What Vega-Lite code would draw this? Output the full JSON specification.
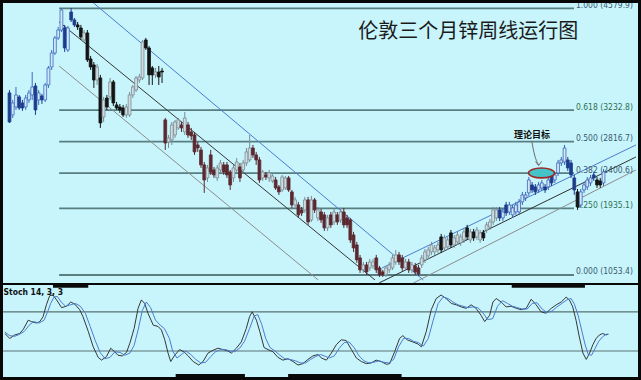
{
"$schema":"https://vega.github.io/schema/vega-lite/v6.json",
"background":"#080808",
"padding":3,
"spacing":2,
"config":{"view":{"stroke":null,"fill":"#C8F5FC"}},
"datasets":{
"candles":[
{"i":0,"o":3461,"h":3500,"l":3064,"c":3077},{"i":1,"o":3170,"h":3368,"l":3130,"c":3328},{"i":2,"o":3275,"h":3540,"l":3236,"c":3434},{"i":3,"o":3408,"h":3434,"l":3236,"c":3262},{"i":4,"o":3328,"h":3368,"l":3223,"c":3262},{"i":5,"o":3275,"h":3434,"l":3236,"c":3394},{"i":6,"o":3368,"h":3500,"l":3328,"c":3461},{"i":7,"o":3434,"h":3738,"l":3368,"c":3540},{"i":8,"o":3553,"h":3593,"l":3170,"c":3236},{"i":9,"o":3368,"h":3500,"l":3302,"c":3461},
{"i":10,"o":3421,"h":3447,"l":3315,"c":3368},{"i":11,"o":3368,"h":3593,"l":3341,"c":3566},{"i":12,"o":3566,"h":3817,"l":3527,"c":3791},{"i":13,"o":3804,"h":4029,"l":3765,"c":3989},{"i":14,"o":3989,"h":4214,"l":3963,"c":4188},{"i":15,"o":4188,"h":4333,"l":4161,"c":4293},{"i":16,"o":4293,"h":4584,"l":4267,"c":4558},{"i":17,"o":4320,"h":4360,"l":4003,"c":4055},{"i":18,"o":4029,"h":4346,"l":4003,"c":4320},{"i":19,"o":4531,"h":4584,"l":4399,"c":4426},
{"i":20,"o":4426,"h":4452,"l":4333,"c":4360},{"i":21,"o":4360,"h":4399,"l":4293,"c":4333},{"i":22,"o":4320,"h":4360,"l":4161,"c":4201},{"i":23,"o":4161,"h":4293,"l":4135,"c":4254},{"i":24,"o":4254,"h":4293,"l":3870,"c":3897},{"i":25,"o":3910,"h":3950,"l":3765,"c":3804},{"i":26,"o":3831,"h":3870,"l":3527,"c":3632},{"i":27,"o":3632,"h":3844,"l":3566,"c":3804},{"i":28,"o":3659,"h":3699,"l":2998,"c":3064},{"i":29,"o":3143,"h":3408,"l":3077,"c":3368},
{"i":30,"o":3394,"h":3434,"l":3236,"c":3275},{"i":31,"o":3408,"h":3659,"l":3368,"c":3606},{"i":32,"o":3606,"h":3632,"l":3289,"c":3328},{"i":33,"o":3302,"h":3341,"l":3236,"c":3262},{"i":34,"o":3275,"h":3315,"l":3196,"c":3236},{"i":35,"o":3262,"h":3302,"l":3143,"c":3170},{"i":36,"o":3170,"h":3315,"l":3130,"c":3275},{"i":37,"o":3170,"h":3474,"l":3143,"c":3434},{"i":38,"o":3434,"h":3566,"l":3394,"c":3540},{"i":39,"o":3500,"h":3685,"l":3474,"c":3659},
{"i":40,"o":3632,"h":3712,"l":3593,"c":3672},{"i":41,"o":3659,"h":4161,"l":3632,"c":4135},{"i":42,"o":4161,"h":4188,"l":4029,"c":4055},{"i":43,"o":4055,"h":4082,"l":3566,"c":3699},{"i":44,"o":3791,"h":3817,"l":3566,"c":3699},{"i":45,"o":3699,"h":3791,"l":3659,"c":3738},{"i":46,"o":3738,"h":3817,"l":3566,"c":3672},{"i":47,"o":3751,"h":3791,"l":3593,"c":3738},{"i":48,"o":3104,"h":3130,"l":2707,"c":2799},{"i":49,"o":2813,"h":2905,"l":2733,"c":2866},
{"i":50,"o":2839,"h":3077,"l":2773,"c":3038},{"i":51,"o":2905,"h":3104,"l":2866,"c":3077},{"i":52,"o":2998,"h":3130,"l":2971,"c":3104},{"i":53,"o":3038,"h":3077,"l":2945,"c":2998},{"i":54,"o":2945,"h":3209,"l":2905,"c":3130},{"i":55,"o":3038,"h":3077,"l":2866,"c":2905},{"i":56,"o":2945,"h":2998,"l":2839,"c":2892},{"i":57,"o":2905,"h":2945,"l":2641,"c":2681},{"i":58,"o":2773,"h":2813,"l":2681,"c":2733},{"i":59,"o":2707,"h":2747,"l":2469,"c":2509},
{"i":60,"o":2509,"h":2548,"l":2139,"c":2310},{"i":61,"o":2337,"h":2509,"l":2284,"c":2469},{"i":62,"o":2641,"h":2707,"l":2377,"c":2416},{"i":63,"o":2443,"h":2482,"l":2337,"c":2377},{"i":64,"o":2337,"h":2509,"l":2297,"c":2469},{"i":65,"o":2443,"h":2575,"l":2403,"c":2535},{"i":66,"o":2509,"h":2548,"l":2377,"c":2416},{"i":67,"o":2509,"h":2548,"l":2337,"c":2377},{"i":68,"o":2416,"h":2443,"l":2178,"c":2244},{"i":69,"o":2337,"h":2509,"l":2284,"c":2469},
{"i":70,"o":2443,"h":2601,"l":2403,"c":2548},{"i":71,"o":2482,"h":2535,"l":2284,"c":2337},{"i":72,"o":2443,"h":2575,"l":2403,"c":2535},{"i":73,"o":2535,"h":2733,"l":2495,"c":2681},{"i":74,"o":2575,"h":2905,"l":2548,"c":2733},{"i":75,"o":2733,"h":2773,"l":2601,"c":2641},{"i":76,"o":2641,"h":2681,"l":2509,"c":2575},{"i":77,"o":2575,"h":2614,"l":2271,"c":2310},{"i":78,"o":2337,"h":2443,"l":2297,"c":2416},{"i":79,"o":2377,"h":2416,"l":2310,"c":2350},
{"i":80,"o":2337,"h":2443,"l":2284,"c":2403},{"i":81,"o":2297,"h":2403,"l":2271,"c":2363},{"i":82,"o":2310,"h":2350,"l":2178,"c":2205},{"i":83,"o":2218,"h":2244,"l":2112,"c":2152},{"i":84,"o":2178,"h":2377,"l":2152,"c":2350},{"i":85,"o":2205,"h":2363,"l":2178,"c":2337},{"i":86,"o":2337,"h":2363,"l":2152,"c":2178},{"i":87,"o":2152,"h":2178,"l":1940,"c":1980},{"i":88,"o":1980,"h":2086,"l":1940,"c":2046},{"i":89,"o":1980,"h":2020,"l":1808,"c":1848},
{"i":90,"o":1914,"h":1953,"l":1834,"c":1874},{"i":91,"o":1914,"h":2086,"l":1874,"c":2046},{"i":92,"o":2046,"h":2086,"l":1716,"c":1755},{"i":93,"o":1782,"h":2099,"l":1755,"c":2046},{"i":94,"o":2046,"h":2072,"l":1874,"c":1914},{"i":95,"o":1808,"h":1953,"l":1768,"c":1914},{"i":96,"o":1887,"h":1927,"l":1742,"c":1782},{"i":97,"o":1848,"h":1887,"l":1636,"c":1676},{"i":98,"o":1676,"h":1848,"l":1636,"c":1808},{"i":99,"o":1848,"h":1887,"l":1676,"c":1716},
{"i":100,"o":1755,"h":1927,"l":1716,"c":1887},{"i":101,"o":1848,"h":1887,"l":1716,"c":1755},{"i":102,"o":1782,"h":1940,"l":1742,"c":1887},{"i":103,"o":1887,"h":1940,"l":1676,"c":1716},{"i":104,"o":1808,"h":1848,"l":1676,"c":1716},{"i":105,"o":1782,"h":1808,"l":1478,"c":1517},{"i":106,"o":1583,"h":1623,"l":1359,"c":1412},{"i":107,"o":1451,"h":1491,"l":1213,"c":1253},{"i":108,"o":1279,"h":1319,"l":1081,"c":1121},{"i":109,"o":1121,"h":1226,"l":1081,"c":1187},
{"i":110,"o":1187,"h":1226,"l":1055,"c":1094},{"i":111,"o":1147,"h":1266,"l":1108,"c":1226},{"i":112,"o":1174,"h":1266,"l":1134,"c":1226},{"i":113,"o":1279,"h":1319,"l":1081,"c":1121},{"i":114,"o":1147,"h":1174,"l":1028,"c":1055},{"i":115,"o":1094,"h":1121,"l":1028,"c":1055},{"i":116,"o":1055,"h":1174,"l":1028,"c":1147},{"i":117,"o":1121,"h":1226,"l":1081,"c":1187},{"i":118,"o":1147,"h":1319,"l":1121,"c":1279},{"i":119,"o":1226,"h":1385,"l":1187,"c":1319},
{"i":120,"o":1319,"h":1359,"l":1187,"c":1226},{"i":121,"o":1279,"h":1319,"l":1108,"c":1147},{"i":122,"o":1147,"h":1266,"l":1108,"c":1226},{"i":123,"o":1226,"h":1266,"l":1081,"c":1121},{"i":124,"o":1121,"h":1226,"l":1081,"c":1187},{"i":125,"o":1174,"h":1213,"l":1055,"c":1094},{"i":126,"o":1147,"h":1187,"l":1041,"c":1068},{"i":127,"o":1187,"h":1319,"l":1147,"c":1279},{"i":128,"o":1253,"h":1398,"l":1213,"c":1359},{"i":129,"o":1306,"h":1425,"l":1266,"c":1385},
{"i":130,"o":1359,"h":1491,"l":1319,"c":1451},{"i":131,"o":1359,"h":1451,"l":1319,"c":1412},{"i":132,"o":1385,"h":1491,"l":1345,"c":1451},{"i":133,"o":1557,"h":1597,"l":1345,"c":1385},{"i":134,"o":1412,"h":1583,"l":1372,"c":1544},{"i":135,"o":1425,"h":1557,"l":1385,"c":1517},{"i":136,"o":1610,"h":1649,"l":1412,"c":1451},{"i":137,"o":1451,"h":1583,"l":1412,"c":1544},{"i":138,"o":1491,"h":1623,"l":1451,"c":1583},{"i":139,"o":1478,"h":1597,"l":1438,"c":1557},
{"i":140,"o":1517,"h":1663,"l":1478,"c":1623},{"i":141,"o":1676,"h":1716,"l":1517,"c":1557},{"i":142,"o":1517,"h":1663,"l":1478,"c":1623},{"i":143,"o":1623,"h":1663,"l":1504,"c":1544},{"i":144,"o":1557,"h":1689,"l":1517,"c":1649},{"i":145,"o":1517,"h":1649,"l":1478,"c":1610},{"i":146,"o":1610,"h":1649,"l":1504,"c":1544},{"i":147,"o":1649,"h":1755,"l":1610,"c":1716},{"i":148,"o":1689,"h":1795,"l":1649,"c":1755},{"i":149,"o":1755,"h":1953,"l":1716,"c":1914},
{"i":150,"o":1808,"h":1953,"l":1768,"c":1914},{"i":151,"o":1914,"h":1953,"l":1768,"c":1808},{"i":152,"o":1808,"h":1927,"l":1768,"c":1887},{"i":153,"o":1980,"h":2020,"l":1834,"c":1874},{"i":154,"o":1887,"h":2020,"l":1848,"c":1980},{"i":155,"o":1848,"h":1980,"l":1808,"c":1940},{"i":156,"o":1887,"h":2020,"l":1848,"c":1980},{"i":157,"o":1887,"h":2059,"l":1848,"c":2020},{"i":158,"o":2020,"h":2152,"l":1980,"c":2112},{"i":159,"o":2072,"h":2152,"l":2033,"c":2112},
{"i":160,"o":2139,"h":2350,"l":2099,"c":2310},{"i":161,"o":2244,"h":2284,"l":2139,"c":2178},{"i":162,"o":2218,"h":2257,"l":2112,"c":2152},{"i":163,"o":2178,"h":2284,"l":2139,"c":2244},{"i":164,"o":2205,"h":2310,"l":2165,"c":2271},{"i":165,"o":2218,"h":2257,"l":2139,"c":2178},{"i":166,"o":2218,"h":2350,"l":2178,"c":2310},{"i":167,"o":2403,"h":2443,"l":2231,"c":2271},{"i":168,"o":2310,"h":2416,"l":2271,"c":2377},{"i":169,"o":2403,"h":2575,"l":2363,"c":2535},
{"i":170,"o":2535,"h":2614,"l":2495,"c":2575},{"i":171,"o":2548,"h":2773,"l":2509,"c":2733},{"i":172,"o":2575,"h":2614,"l":2429,"c":2469},{"i":173,"o":2535,"h":2575,"l":2337,"c":2377},{"i":174,"o":2337,"h":2377,"l":2112,"c":2178},{"i":175,"o":2152,"h":2191,"l":1914,"c":1953},{"i":176,"o":1980,"h":2191,"l":1940,"c":2152},{"i":177,"o":2178,"h":2284,"l":2139,"c":2244},{"i":178,"o":2218,"h":2350,"l":2178,"c":2310},{"i":179,"o":2271,"h":2377,"l":2231,"c":2337},
{"i":180,"o":2377,"h":2416,"l":2297,"c":2337},{"i":181,"o":2310,"h":2350,"l":2205,"c":2244},{"i":182,"o":2297,"h":2337,"l":2205,"c":2244},{"i":183,"o":2271,"h":2456,"l":2231,"c":2416}
],
"fib":[
{"r":1.0,"p":4579.9,"lab":"1.000 (4579.9)"},
{"r":0.618,"p":3232.8,"lab":"0.618 (3232.8)"},
{"r":0.5,"p":2816.7,"lab":"0.500 (2816.7)"},
{"r":0.382,"p":2400.6,"lab":"0.382 (2400.6)"},
{"r":0.25,"p":1935.1,"lab":"0.250 (1935.1)"},
{"r":0.0,"p":1053.4,"lab":"0.000 (1053.4)"}
],
"chan":[
{"ln":"db","i":25.9,"p":4650},{"ln":"db","i":127.5,"p":988},
{"ln":"dm","i":15.3,"p":4399},{"ln":"dm","i":112.6,"p":988},
{"ln":"dl","i":15.3,"p":3817},{"ln":"dl","i":95.1,"p":988},
{"ln":"ub","i":114.8,"p":1147},{"ln":"ub","i":193,"p":2773},
{"ln":"um","i":113.9,"p":949},{"ln":"um","i":193,"p":2614},
{"ln":"ul","i":124.5,"p":949},{"ln":"ul","i":193,"p":2443}
],
"stoch":[
{"i":0.1,"s":"K","v":45},{"i":1.6,"s":"K","v":38},{"i":3.1,"s":"K","v":43},{"i":4.6,"s":"K","v":45},{"i":5.7,"s":"K","v":51},{"i":7.2,"s":"K","v":64},{"i":8.2,"s":"K","v":62},{"i":9.7,"s":"K","v":60},{"i":10.7,"s":"K","v":62},{"i":11.7,"s":"K","v":69},{"i":12.7,"s":"K","v":86},{"i":13.7,"s":"K","v":99},{"i":14.7,"s":"K","v":100},{"i":15.8,"s":"K","v":93},{"i":17.3,"s":"K","v":82},{"i":18.8,"s":"K","v":84},{"i":20.1,"s":"K","v":90},{"i":21.3,"s":"K","v":87},{"i":22.8,"s":"K","v":79},{"i":23.8,"s":"K","v":69},{"i":25.4,"s":"K","v":48},{"i":26.9,"s":"K","v":26},{"i":28.4,"s":"K","v":11},{"i":29.4,"s":"K","v":7},{"i":30.9,"s":"K","v":12},{"i":32.2,"s":"K","v":24},{"i":33.4,"s":"K","v":19},{"i":34.4,"s":"K","v":14},{"i":35.7,"s":"K","v":13},{"i":37,"s":"K","v":18},{"i":38,"s":"K","v":31},{"i":39.3,"s":"K","v":52},{"i":40.5,"s":"K","v":81},{"i":41.5,"s":"K","v":93},{"i":42.5,"s":"K","v":88},{"i":43.5,"s":"K","v":74},{"i":45.1,"s":"K","v":57},{"i":46.6,"s":"K","v":55},{"i":47.6,"s":"K","v":50},{"i":48.6,"s":"K","v":36},{"i":49.6,"s":"K","v":17},{"i":50.4,"s":"K","v":5},{"i":51.6,"s":"K","v":14},{"i":53.1,"s":"K","v":22},{"i":54.4,"s":"K","v":19},{"i":55.7,"s":"K","v":13},{"i":57.2,"s":"K","v":5},{"i":58.9,"s":"K","v":0},{"i":60.2,"s":"K","v":5},{"i":61.7,"s":"K","v":17},{"i":63.2,"s":"K","v":21},{"i":64.7,"s":"K","v":24},{"i":66.3,"s":"K","v":22},{"i":67.8,"s":"K","v":20},{"i":68.8,"s":"K","v":17},{"i":70.3,"s":"K","v":24},{"i":71.8,"s":"K","v":33},{"i":73.3,"s":"K","v":52},{"i":74.3,"s":"K","v":69},{"i":75.1,"s":"K","v":76},{"i":76.4,"s":"K","v":64},{"i":77.4,"s":"K","v":48},{"i":78.7,"s":"K","v":25},{"i":79.9,"s":"K","v":22},{"i":81.4,"s":"K","v":19},{"i":82.9,"s":"K","v":11},{"i":84.4,"s":"K","v":7},{"i":86,"s":"K","v":9},{"i":87.5,"s":"K","v":5},{"i":89,"s":"K","v":0},{"i":90.5,"s":"K","v":2},{"i":92,"s":"K","v":8},{"i":93.5,"s":"K","v":13},{"i":95.1,"s":"K","v":15},{"i":96.1,"s":"K","v":10},{"i":97.6,"s":"K","v":7},{"i":99.1,"s":"K","v":17},{"i":100.6,"s":"K","v":29},{"i":102.1,"s":"K","v":36},{"i":103.6,"s":"K","v":35},{"i":105.2,"s":"K","v":22},{"i":106.7,"s":"K","v":10},{"i":108.2,"s":"K","v":5},{"i":109.7,"s":"K","v":2},{"i":111.2,"s":"K","v":3},{"i":112.7,"s":"K","v":7},{"i":114.2,"s":"K","v":5},{"i":115.8,"s":"K","v":1},{"i":116.8,"s":"K","v":2},{"i":118.3,"s":"K","v":19},{"i":119.8,"s":"K","v":38},{"i":120.8,"s":"K","v":42},{"i":122.1,"s":"K","v":36},{"i":123.8,"s":"K","v":33},{"i":125.4,"s":"K","v":30},{"i":126.4,"s":"K","v":26},{"i":127.9,"s":"K","v":48},{"i":129.4,"s":"K","v":79},{"i":130.9,"s":"K","v":95},{"i":132.4,"s":"K","v":100},{"i":133.9,"s":"K","v":95},{"i":135.5,"s":"K","v":88},{"i":137,"s":"K","v":86},{"i":138.5,"s":"K","v":83},{"i":140,"s":"K","v":81},{"i":141.5,"s":"K","v":86},{"i":143,"s":"K","v":81},{"i":144.5,"s":"K","v":71},{"i":145.6,"s":"K","v":62},{"i":147.1,"s":"K","v":71},{"i":148.1,"s":"K","v":90},{"i":149.1,"s":"K","v":95},{"i":150.6,"s":"K","v":90},{"i":152.1,"s":"K","v":83},{"i":153.6,"s":"K","v":84},{"i":155.2,"s":"K","v":81},{"i":156.7,"s":"K","v":79},{"i":158.2,"s":"K","v":81},{"i":159.7,"s":"K","v":94},{"i":161.2,"s":"K","v":86},{"i":162.7,"s":"K","v":76},{"i":164.2,"s":"K","v":74},{"i":165.8,"s":"K","v":81},{"i":167.3,"s":"K","v":86},{"i":168.8,"s":"K","v":90},{"i":170.3,"s":"K","v":97},{"i":171.3,"s":"K","v":93},{"i":172.3,"s":"K","v":83},{"i":173.3,"s":"K","v":64},{"i":174.3,"s":"K","v":40},{"i":175.4,"s":"K","v":17},{"i":176.4,"s":"K","v":8},{"i":177.4,"s":"K","v":17},{"i":178.4,"s":"K","v":29},{"i":179.4,"s":"K","v":38},{"i":180.4,"s":"K","v":43},{"i":181.4,"s":"K","v":45},{"i":182.4,"s":"K","v":43},{"i":183.1,"s":"K","v":44},
{"i":0.1,"s":"D","v":47},{"i":1.6,"s":"D","v":42},{"i":3.1,"s":"D","v":41},{"i":4.6,"s":"D","v":44},{"i":6,"s":"D","v":48},{"i":7.5,"s":"D","v":57},{"i":8.8,"s":"D","v":62},{"i":10.5,"s":"D","v":60},{"i":12,"s":"D","v":64},{"i":13,"s":"D","v":75},{"i":14,"s":"D","v":88},{"i":15,"s":"D","v":97},{"i":16,"s":"D","v":98},{"i":17.2,"s":"D","v":90},{"i":18.5,"s":"D","v":84},{"i":20,"s":"D","v":86},{"i":21.5,"s":"D","v":88},{"i":23,"s":"D","v":84},{"i":24.5,"s":"D","v":74},{"i":26,"s":"D","v":55},{"i":27.5,"s":"D","v":35},{"i":29,"s":"D","v":18},{"i":30.5,"s":"D","v":9},{"i":32,"s":"D","v":11},{"i":33.5,"s":"D","v":19},{"i":35,"s":"D","v":18},{"i":36.5,"s":"D","v":14},{"i":38,"s":"D","v":17},{"i":39.3,"s":"D","v":28},{"i":40.5,"s":"D","v":50},{"i":41.8,"s":"D","v":78},{"i":43,"s":"D","v":90},{"i":44.3,"s":"D","v":82},{"i":45.8,"s":"D","v":64},{"i":47.2,"s":"D","v":57},{"i":48.5,"s":"D","v":52},{"i":50,"s":"D","v":38},{"i":51,"s":"D","v":20},{"i":52.3,"s":"D","v":10},{"i":53.7,"s":"D","v":15},{"i":55,"s":"D","v":20},{"i":56.5,"s":"D","v":15},{"i":58,"s":"D","v":8},{"i":59.5,"s":"D","v":3},{"i":61,"s":"D","v":4},{"i":62.5,"s":"D","v":12},{"i":64,"s":"D","v":19},{"i":65.5,"s":"D","v":22},{"i":67,"s":"D","v":22},{"i":68.5,"s":"D","v":20},{"i":69.8,"s":"D","v":19},{"i":71.3,"s":"D","v":24},{"i":72.8,"s":"D","v":34},{"i":74.3,"s":"D","v":52},{"i":75.7,"s":"D","v":70},{"i":76.8,"s":"D","v":72},{"i":78,"s":"D","v":58},{"i":79.2,"s":"D","v":38},{"i":80.5,"s":"D","v":25},{"i":82,"s":"D","v":20},{"i":83.5,"s":"D","v":14},{"i":85,"s":"D","v":9},{"i":86.6,"s":"D","v":8},{"i":88.2,"s":"D","v":6},{"i":89.8,"s":"D","v":3},{"i":91.3,"s":"D","v":3},{"i":92.8,"s":"D","v":8},{"i":94.3,"s":"D","v":12},{"i":95.8,"s":"D","v":15},{"i":97,"s":"D","v":13},{"i":98.5,"s":"D","v":10},{"i":100,"s":"D","v":13},{"i":101.5,"s":"D","v":24},{"i":103,"s":"D","v":32},{"i":104.5,"s":"D","v":33},{"i":106,"s":"D","v":25},{"i":107.5,"s":"D","v":13},{"i":109,"s":"D","v":6},{"i":110.5,"s":"D","v":3},{"i":112,"s":"D","v":4},{"i":113.5,"s":"D","v":6},{"i":115,"s":"D","v":4},{"i":116.5,"s":"D","v":3},{"i":118,"s":"D","v":8},{"i":119.5,"s":"D","v":26},{"i":121,"s":"D","v":38},{"i":122.5,"s":"D","v":38},{"i":124,"s":"D","v":34},{"i":125.5,"s":"D","v":32},{"i":127,"s":"D","v":27},{"i":128.5,"s":"D","v":38},{"i":130,"s":"D","v":64},{"i":131.5,"s":"D","v":88},{"i":133,"s":"D","v":97},{"i":134.5,"s":"D","v":95},{"i":136,"s":"D","v":90},{"i":137.5,"s":"D","v":86},{"i":139,"s":"D","v":84},{"i":140.5,"s":"D","v":82},{"i":142,"s":"D","v":83},{"i":143.5,"s":"D","v":82},{"i":145,"s":"D","v":75},{"i":146.5,"s":"D","v":65},{"i":148,"s":"D","v":66},{"i":149.5,"s":"D","v":84},{"i":151,"s":"D","v":92},{"i":152.5,"s":"D","v":88},{"i":154,"s":"D","v":84},{"i":155.5,"s":"D","v":82},{"i":157,"s":"D","v":80},{"i":158.5,"s":"D","v":80},{"i":160,"s":"D","v":88},{"i":161.5,"s":"D","v":89},{"i":163,"s":"D","v":80},{"i":164.5,"s":"D","v":75},{"i":166,"s":"D","v":77},{"i":167.5,"s":"D","v":83},{"i":169,"s":"D","v":88},{"i":170.5,"s":"D","v":93},{"i":171.8,"s":"D","v":95},{"i":172.8,"s":"D","v":87},{"i":174,"s":"D","v":70},{"i":175,"s":"D","v":50},{"i":176,"s":"D","v":30},{"i":177,"s":"D","v":15},{"i":178,"s":"D","v":14},{"i":179,"s":"D","v":23},{"i":180.2,"s":"D","v":34},{"i":181.3,"s":"D","v":40},{"i":182.4,"s":"D","v":44},{"i":183.1,"s":"D","v":44}
],
"zones":[
{"s":14.7,"e":25.4,"z":"hi"},{"s":153.8,"e":176,"z":"hi"},
{"s":51.9,"e":72.9,"z":"lo"},{"s":86,"e":120.4,"z":"lo"}
]
},
"vconcat":[
{
"width":635,"height":280,
"layer":[
{"data":{"name":"fib"},"mark":{"type":"rule","stroke":"#587E80","strokeWidth":1.8,"clip":true},
"encoding":{"x":{"datum":15.3,"type":"quantitative","scale":{"domain":[-0.455,192.09],"nice":false,"zero":false},"axis":null},"x2":{"datum":173.9},
"y":{"field":"p","type":"quantitative","scale":{"domain":[947.6,4650],"nice":false,"zero":false},"axis":null}}},
{"data":{"name":"chan"},"mark":{"type":"line","strokeWidth":1,"clip":true},
"encoding":{"x":{"field":"i","type":"quantitative","scale":{"domain":[-0.455,192.09],"nice":false,"zero":false},"axis":null},
"y":{"field":"p","type":"quantitative","scale":{"domain":[947.6,4650],"nice":false,"zero":false},"axis":null},
"color":{"field":"ln","type":"nominal","scale":{"domain":["db","dm","dl","ub","um","ul"],"range":["#4A7CD0","#363636","#8C8C8C","#4A7CD0","#303030","#8C8C8C"]},"legend":null}}},
{"data":{"name":"fib"},"mark":{"type":"text","align":"left","baseline":"middle","dy":-3.5,"font":"Liberation Sans Narrow, DejaVu Sans Condensed, sans-serif","fontSize":8.5,"clip":true},
"encoding":{"x":{"datum":174.5,"type":"quantitative","scale":{"domain":[-0.455,192.09],"nice":false,"zero":false},"axis":null},
"y":{"field":"p","type":"quantitative","scale":{"domain":[947.6,4650],"nice":false,"zero":false},"axis":null},
"text":{"field":"lab"},
"color":{"condition":{"test":"datum.r==0.618 || datum.r==0.25","value":"#2E7050"},"value":"#3A5A70"}}},
{"data":{"name":"candles"},"mark":{"type":"rule","strokeWidth":1,"clip":true},
"encoding":{"x":{"field":"i","type":"quantitative","scale":{"domain":[-0.455,192.09],"nice":false,"zero":false},"axis":null},
"y":{"field":"l","type":"quantitative","scale":{"domain":[947.6,4650],"nice":false,"zero":false},"axis":null},"y2":{"field":"h"},
"stroke":{"condition":[
{"test":"datum.c>=datum.o && datum.i<=20","value":"#3A6CC0"},
{"test":"datum.c>=datum.o && datum.i<=150","value":"#788C96"},
{"test":"datum.c>=datum.o","value":"#3A64B8"},
{"test":"datum.i<=20","value":"#1E3C8C"},
{"test":"datum.i<=47","value":"#141414"},
{"test":"datum.i<=126","value":"#5C2830"},
{"test":"datum.i<=150","value":"#141414"},
{"test":"datum.i<=174 || datum.i==180","value":"#1E3C8C"}],"value":"#141414"}}},
{"data":{"name":"candles"},"mark":{"type":"bar","width":2.8,"strokeWidth":0.8,"clip":true},
"encoding":{"x":{"field":"i","type":"quantitative","scale":{"domain":[-0.455,192.09],"nice":false,"zero":false},"axis":null},
"y":{"field":"o","type":"quantitative","scale":{"domain":[947.6,4650],"nice":false,"zero":false},"axis":null},"y2":{"field":"c"},
"fill":{"condition":[
{"test":"datum.c>=datum.o && datum.i<=20","value":"#D2E6F6"},
{"test":"datum.c>=datum.o && datum.i<=150","value":"#D0DCE0"},
{"test":"datum.c>=datum.o","value":"#D6E6F4"},
{"test":"datum.i<=20","value":"#1E3C8C"},
{"test":"datum.i<=47","value":"#141414"},
{"test":"datum.i<=126","value":"#5C2830"},
{"test":"datum.i<=150","value":"#141414"},
{"test":"datum.i<=174 || datum.i==180","value":"#1E3C8C"}],"value":"#141414"},
"stroke":{"condition":[
{"test":"datum.c>=datum.o && datum.i<=20","value":"#3A6CC0"},
{"test":"datum.c>=datum.o && datum.i<=150","value":"#788C96"},
{"test":"datum.c>=datum.o","value":"#3A64B8"},
{"test":"datum.i<=20","value":"#1E3C8C"},
{"test":"datum.i<=47","value":"#141414"},
{"test":"datum.i<=126","value":"#5C2830"},
{"test":"datum.i<=150","value":"#141414"},
{"test":"datum.i<=174 || datum.i==180","value":"#1E3C8C"}],"value":"#141414"}}},
{"data":{"values":[{"i":160.9,"p":2826},{"i":161.6,"p":2670},{"i":163.0,"p":2509}]},"mark":{"type":"line","interpolate":"monotone","stroke":"#6A6A6A","strokeWidth":1,"clip":true},
"encoding":{"x":{"field":"i","type":"quantitative","scale":{"domain":[-0.455,192.09],"nice":false,"zero":false},"axis":null},
"y":{"field":"p","type":"quantitative","scale":{"domain":[947.6,4650],"nice":false,"zero":false},"axis":null}}},
{"data":{"values":[{"i":163.0,"p":2500}]},"mark":{"type":"point","shape":"M-1,-1.4L0,0L1,-1.4","filled":false,"stroke":"#6A6A6A","strokeWidth":1,"size":36,"opacity":1,"clip":true},
"encoding":{"x":{"field":"i","type":"quantitative","scale":{"domain":[-0.455,192.09],"nice":false,"zero":false},"axis":null},
"y":{"field":"p","type":"quantitative","scale":{"domain":[947.6,4650],"nice":false,"zero":false},"axis":null}}},
{"data":{"values":[{"i":163.9,"p":2403}]},"mark":{"type":"point","shape":"M-1,0A1,0.38,0,1,1,1,0A1,0.38,0,1,1,-1,0Z","filled":true,"fill":"#44C4C8","stroke":"#A02828","strokeWidth":1.6,"size":676,"opacity":1,"clip":true},
"encoding":{"x":{"field":"i","type":"quantitative","scale":{"domain":[-0.455,192.09],"nice":false,"zero":false},"axis":null},
"y":{"field":"p","type":"quantitative","scale":{"domain":[947.6,4650],"nice":false,"zero":false},"axis":null}}},
{"data":{"values":[{"i":141.3,"p":4267,"t":"伦敦三个月锌周线运行图"}]},"mark":{"type":"text","font":"Noto Sans CJK SC","fontSize":20,"color":"#1A1A1A","align":"center","baseline":"middle","clip":true},
"encoding":{"x":{"field":"i","type":"quantitative","scale":{"domain":[-0.455,192.09],"nice":false,"zero":false},"axis":null},
"y":{"field":"p","type":"quantitative","scale":{"domain":[947.6,4650],"nice":false,"zero":false},"axis":null},"text":{"field":"t"}}},
{"data":{"values":[{"i":161.0,"p":2905,"t":"理论目标"}]},"mark":{"type":"text","font":"Noto Sans CJK SC","fontSize":9,"fontWeight":"bold","color":"#111111","align":"center","baseline":"middle","clip":true},
"encoding":{"x":{"field":"i","type":"quantitative","scale":{"domain":[-0.455,192.09],"nice":false,"zero":false},"axis":null},
"y":{"field":"p","type":"quantitative","scale":{"domain":[947.6,4650],"nice":false,"zero":false},"axis":null},"text":{"field":"t"}}}
]
},
{
"width":635,"height":92,
"layer":[
{"data":{"values":[{"v":76},{"v":20}]},"mark":{"type":"rule","stroke":"#5A7070","strokeWidth":1.2,"clip":true},
"encoding":{"y":{"field":"v","type":"quantitative","scale":{"domain":[-17.1,114.3],"nice":false,"zero":false},"axis":null}}},
{"data":{"name":"stoch"},"mark":{"type":"line","strokeWidth":1,"clip":true},
"encoding":{"x":{"field":"i","type":"quantitative","scale":{"domain":[-0.455,192.09],"nice":false,"zero":false},"axis":null},
"y":{"field":"v","type":"quantitative","scale":{"domain":[-17.1,114.3],"nice":false,"zero":false},"axis":null},
"color":{"field":"s","type":"nominal","scale":{"domain":["D","K"],"range":["#8A7878","#3C6CCC"]},"legend":null}}},
{"data":{"name":"zones"},"transform":[{"filter":"datum.z=='hi'"}],"mark":{"type":"rule","stroke":"#0A0A0A","strokeWidth":3,"clip":true},
"encoding":{"x":{"field":"s","type":"quantitative","scale":{"domain":[-0.455,192.09],"nice":false,"zero":false},"axis":null},"x2":{"field":"e"},
"y":{"datum":112.6,"type":"quantitative","scale":{"domain":[-17.1,114.3],"nice":false,"zero":false},"axis":null}}},
{"data":{"name":"zones"},"transform":[{"filter":"datum.z=='lo'"}],"mark":{"type":"rule","stroke":"#0A0A0A","strokeWidth":3,"clip":true},
"encoding":{"x":{"field":"s","type":"quantitative","scale":{"domain":[-0.455,192.09],"nice":false,"zero":false},"axis":null},"x2":{"field":"e"},
"y":{"datum":-15,"type":"quantitative","scale":{"domain":[-17.1,114.3],"nice":false,"zero":false},"axis":null}}},
{"data":{"values":[{"t":"Stoch 14, 3, 3"}]},"mark":{"type":"text","font":"Liberation Sans Narrow, DejaVu Sans Condensed, sans-serif","fontSize":8.5,"fontWeight":"bold","color":"#111111","align":"left","baseline":"middle","clip":true},
"encoding":{"x":{"datum":-0.3,"type":"quantitative","scale":{"domain":[-0.455,192.09],"nice":false,"zero":false},"axis":null},
"y":{"datum":104,"type":"quantitative","scale":{"domain":[-17.1,114.3],"nice":false,"zero":false},"axis":null},"text":{"field":"t"}}}
]
}
]
}
